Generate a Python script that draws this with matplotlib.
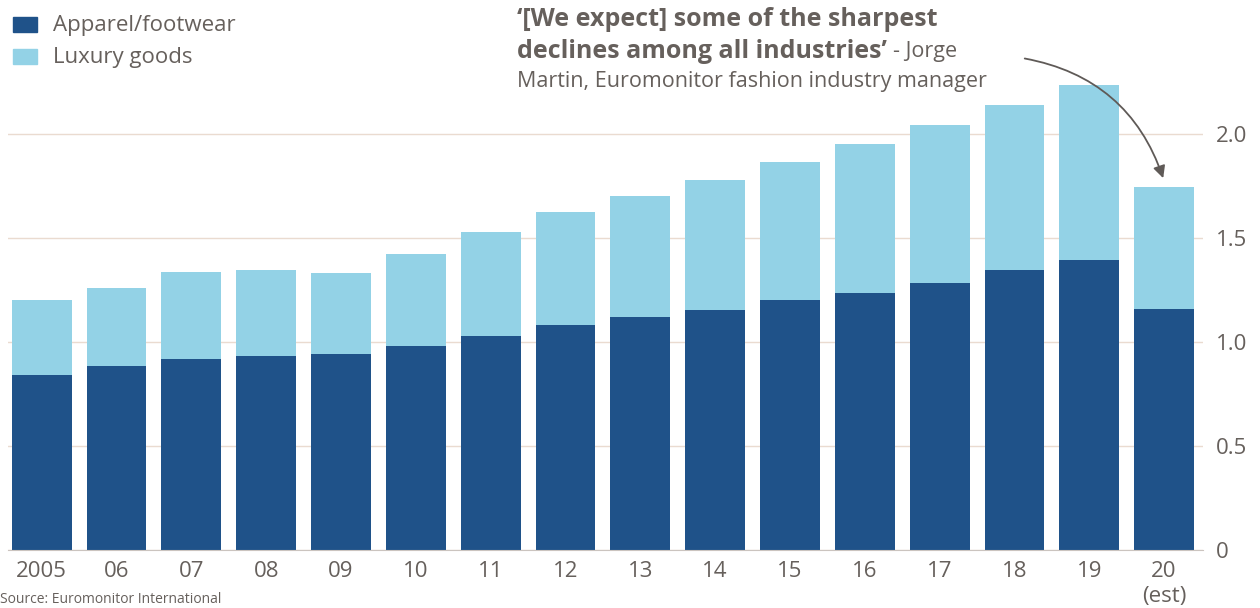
import numpy as np
import matplotlib
matplotlib.use('Agg')
import matplotlib.pyplot as plt

plt.rcParams['font.family'] = ['Open Sans', 'DejaVu Sans']

years = ['2005', '06', '07', '08', '09', '10', '11', '12', '13', '14',
         '15', '16', '17', '18', '19', '20\n(est)']
apparel = [0.84, 0.885, 0.92, 0.935, 0.94, 0.98, 1.03, 1.08, 1.12, 1.155,
           1.20, 1.235, 1.285, 1.345, 1.395, 1.16]
total = [1.20, 1.26, 1.335, 1.345, 1.33, 1.425, 1.53, 1.625, 1.70, 1.78,
         1.865, 1.95, 2.045, 2.14, 2.235, 1.745]
luxury = [t - a for t, a in zip(total, apparel)]

dark = '#1f5289'
light = '#93d2e6'
grey = '#66605c'

fig = plt.figure(figsize=(12.6, 6.08), dpi=100)
ax = fig.add_axes([8 / 1260, 58 / 608, 1195 / 1260, 470 / 608])

x = np.arange(len(years))
ax.bar(x, apparel, width=0.8, color=dark, zorder=2)
ax.bar(x, luxury, bottom=apparel, width=0.8, color=light, zorder=2)

ax.set_xlim(-0.45, len(years) - 0.48)
ax.set_ylim(0, 470 / 208)
ax.set_yticks([0, 0.5, 1.0, 1.5, 2.0])
ax.set_yticklabels(['0', '0.5', '1.0', '1.5', '2.0'])
ax.yaxis.tick_right()
ax.grid(axis='y', color='#eadbd0', linewidth=1, zorder=0)
ax.tick_params(axis='y', length=0, pad=9, labelsize=16, labelcolor=grey)
ax.set_xticks(x)
ax.set_xticklabels(years, linespacing=1.25)
ax.tick_params(axis='x', length=0, pad=8, labelsize=16, labelcolor=grey)
for s in ['top', 'left', 'right']:
    ax.spines[s].set_visible(False)
ax.spines['bottom'].set_color('#cbc4bf')
ax.spines['bottom'].set_zorder(3)

# legend
fig.patches.append(plt.Rectangle((13 / 1260, 1 - 32 / 608), 24 / 1260, 15 / 608,
                                 transform=fig.transFigure, color=dark))
fig.patches.append(plt.Rectangle((13 / 1260, 1 - 64 / 608), 24 / 1260, 15 / 608,
                                 transform=fig.transFigure, color=light))
fig.text(53 / 1260, 1 - 25 / 608, 'Apparel/footwear', fontsize=16, color=grey, va='center')
fig.text(53 / 1260, 1 - 57 / 608, 'Luxury goods', fontsize=16, color=grey, va='center')

# quote
fig.text(517 / 1260, 1 - 19 / 608, '\u2018[We expect] some of the sharpest',
         fontsize=18, fontweight='bold', color=grey, va='center')
t2 = fig.text(517 / 1260, 1 - 51 / 608, 'declines among all industries\u2019',
              fontsize=18, fontweight='bold', color=grey, va='center')
fig.canvas.draw()
bb = t2.get_window_extent()
fig.text(bb.x1 / 1260 + 6 / 1260, 1 - 51 / 608, '- Jorge', fontsize=15.5,
         color=grey, va='center')
fig.text(517 / 1260, 1 - 81 / 608, 'Martin, Euromonitor fashion industry manager',
         fontsize=15.5, color=grey, va='center')

ax.annotate('', xy=(15, total[-1] + 0.03), xycoords='data',
            xytext=(1022 / 1260, 1 - 58 / 608), textcoords='figure fraction',
            arrowprops=dict(arrowstyle='-|>', color='#5f5a57', lw=1.3,
                            connectionstyle='arc3,rad=-0.3', mutation_scale=18),
            annotation_clip=False)

fig.text(0, 1 / 608, 'Source: Euromonitor International', fontsize=10,
         color=grey, va='bottom')

fig.savefig('out.png', dpi=100, facecolor='white')
